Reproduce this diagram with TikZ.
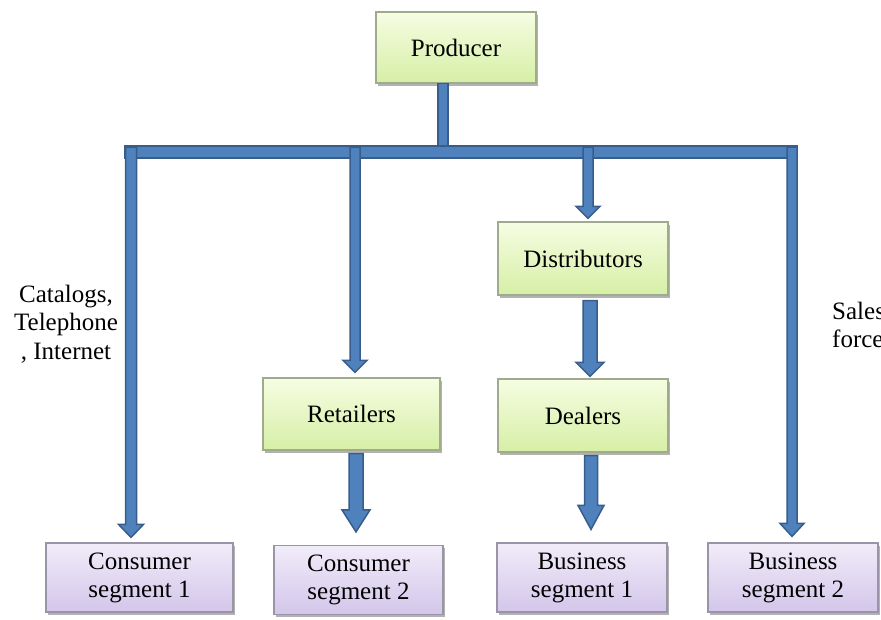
\documentclass[tikz,border=0pt]{standalone}
\usepackage{fontspec}
\setmainfont{Liberation Serif}
\usetikzlibrary{calc,shadows}

\definecolor{arrowfill}{HTML}{4F81BD}
\definecolor{arrowline}{HTML}{385D8A}
\definecolor{greentop}{HTML}{F6FDE2}
\definecolor{greenbot}{HTML}{D6EFA6}
\definecolor{greenrim}{HTML}{9FAA8E}
\definecolor{violettop}{HTML}{F1ECF9}
\definecolor{violetbot}{HTML}{D3C6EA}
\definecolor{violetrim}{HTML}{9A94A8}

\tikzset{
  boxbase/.style={rectangle, line width=1.2pt, align=center, inner sep=0pt,
    font=\fontsize{25}{28}\selectfont,
    drop shadow={shadow xshift=2pt, shadow yshift=-2.5pt, fill=black, opacity=0.3}},
  stage/.style={boxbase, draw=greenrim, top color=greentop, bottom color=greenbot},
  segment/.style={boxbase, draw=violetrim, top color=violettop, bottom color=violetbot},
  arrowbody/.style={fill=arrowfill, draw=arrowline, line width=1.5pt, line join=miter},
  sidenote/.style={font=\fontsize{25}{28.5}\selectfont, inner sep=0pt}
}

% vertical block arrow: start point, tip point, shaft half-width, head half-width, head length
\newcommand\blockarrow[5]{%
  \filldraw[arrowbody] let \p1=(#1), \p2=(#2) in
    (\x1-#3,\y1) -- (\x1-#3,\y2+#5) -- (\x1-#4,\y2+#5) -- (\x1,\y2)
    -- (\x1+#4,\y2+#5) -- (\x1+#3,\y2+#5) -- (\x1+#3,\y1) -- cycle;}

\begin{document}
\begin{tikzpicture}[x=1pt, y=-1pt]
  \useasboundingbox (0,0) rectangle (881,619);
  \clip (0,0) rectangle (881,619);

  % channel members
  \node[stage, minimum width=160, minimum height=71] (prod) at (456,47.5) {\raisebox{-2pt}{Producer}};
  \node[stage, minimum width=170, minimum height=73] (dist) at (583,258.5) {Distributors};
  \node[stage, minimum width=177, minimum height=72] (ret)  at (351.5,414) {Retailers};
  \node[stage, minimum width=170, minimum height=73] (deal) at (583,415.5) {Dealers};

  % customer segments
  \node[segment, minimum width=187, minimum height=69] (cs1) at (139.5,577.5) {Consumer\\segment 1};
  \node[segment, minimum width=169, minimum height=69] (cs2) at (358.5,580) {Consumer\\segment 2};
  \node[segment, minimum width=170, minimum height=69] (bs1) at (582,577.5) {Business\\segment 1};
  \node[segment, minimum width=170, minimum height=69] (bs2) at (793,577.5) {Business\\segment 2};

  % channel labels
  \node[sidenote, align=center] (chan) at (66,324) {Catalogs,\\Telephone\\, Internet};
  \node[sidenote, align=left, anchor=west] (sales) at (832,325) {Sales\\force};

  % distribution bus
  \coordinate (busL) at (125,152);
  \coordinate (busR) at (797,152);
  \coordinate (stemTop) at ($(prod.south)+(-13,0)$);
  \filldraw[arrowbody] ($(stemTop)+(-5,0)$) rectangle ($(stemTop |- busL)+(5,-4)$);
  \filldraw[arrowbody] ($(busL)+(0,-6)$) rectangle ($(busR)+(0,6)$);

  % taps from the bus
  \coordinate (tapCS1)  at (131,147);
  \coordinate (tapRet)  at (355,147);
  \coordinate (tapDist) at (588,147);
  \coordinate (tapBS2)  at (792,147);
  \blockarrow{tapCS1}{$(cs1.north)+(0,-5)$}{5.5pt}{12.5pt}{13pt}
  \blockarrow{tapRet}{$(ret.north)+(0,-5)$}{5pt}{12pt}{12pt}
  \blockarrow{tapDist}{$(dist.north)+(0,-3)$}{5pt}{12pt}{12pt}
  \blockarrow{tapBS2}{$(bs2.north)+(0,-6)$}{5pt}{12pt}{13pt}

  % arrows between stages
  \blockarrow{$(ret.south)+(4.5,3)$}{$(cs2.north)+(0,-13)$}{7pt}{14pt}{22pt}
  \blockarrow{$(dist.south)+(7,5)$}{$(deal.north)+(0,-2)$}{7pt}{14pt}{14pt}
  \blockarrow{$(deal.south)+(8,3)$}{$(bs1.north)+(0,-13)$}{6.5pt}{13pt}{24pt}
\end{tikzpicture}
\end{document}
